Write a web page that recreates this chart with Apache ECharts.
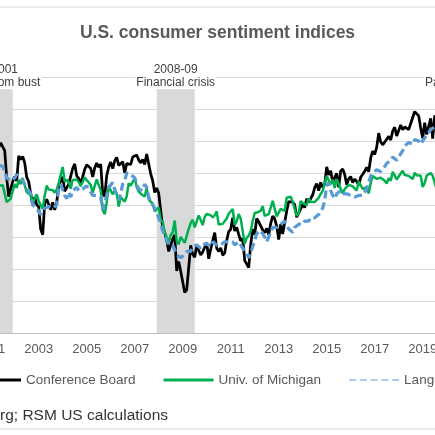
<!DOCTYPE html>
<html>
<head>
<meta charset="utf-8">
<title>U.S. consumer sentiment indices</title>
<script src="https://cdn.jsdelivr.net/npm/echarts@6/dist/echarts.min.js"></script>
<style>
html, body { margin: 0; padding: 0; background: #fff; }
#main { width: 435px; height: 435px; }
</style>
</head>
<body>
<div id="main"></div>
<script>
// monthly readings, first value = May 2001
var startYear = 2001;
var startMonth = 5;

var confBoard = [
    116.1, 118.9, 116.3, 114.0, 97.0, 85.3, 84.9, 94.6,
    97.8, 95.0, 110.7, 108.5, 110.3, 106.3, 97.4, 94.5, 93.7, 79.6, 84.9, 80.3,
    78.8, 64.8, 61.4, 81.0, 83.6, 83.5, 77.0, 81.7, 77.0, 81.7, 92.5, 94.8,
    97.7, 88.5, 88.5, 93.0, 93.1, 102.8, 105.7, 98.2, 96.7, 92.9, 92.6, 102.3,
    105.1, 104.4, 103.0, 97.5, 103.1, 106.2, 103.6, 105.5, 87.5, 85.2, 98.3, 103.8,
    106.8, 102.7, 107.5, 109.8, 104.7, 105.4, 107.0, 100.2, 105.9, 105.1, 105.3, 110.0,
    110.2, 111.2, 108.2, 106.3, 108.5, 105.3, 111.9, 105.6, 99.5, 95.2, 87.8, 90.6,
    87.3, 76.4, 65.9, 62.8, 58.1, 51.0, 51.9, 58.5, 61.4, 38.8, 44.7, 38.6,
    37.4, 25.3, 26.9, 40.8, 54.8, 49.3, 47.4, 54.5, 53.4, 48.7, 50.6, 53.6,
    56.5, 46.4, 52.3, 57.7, 62.7, 52.9, 51.0, 53.2, 48.6, 49.9, 57.8, 63.4,
    64.8, 72.0, 63.8, 66.0, 61.7, 57.6, 59.2, 45.2, 46.4, 40.9, 55.2, 64.8,
    61.5, 71.6, 69.5, 68.7, 64.4, 62.7, 65.4, 61.3, 68.4, 73.1, 71.5, 66.7,
    58.4, 68.0, 61.9, 69.0, 76.2, 82.1, 81.0, 81.8, 80.2, 72.4, 72.0, 77.5,
    80.7, 78.3, 83.9, 81.7, 82.2, 86.4, 90.9, 93.4, 89.0, 94.1, 91.0, 93.1,
    103.8, 98.8, 101.4, 94.3, 94.6, 99.8, 91.0, 101.3, 102.6, 99.1, 92.6, 96.3,
    97.8, 94.0, 96.2, 94.7, 92.4, 97.4, 96.7, 101.1, 103.5, 100.8, 109.4, 113.7,
    111.6, 116.1, 124.9, 119.4, 117.6, 117.3, 121.1, 122.9, 120.6, 126.2, 128.6, 123.1,
    124.3, 130.0, 127.0, 128.8, 128.0, 127.1, 127.9, 134.7, 138.4, 137.9, 135.7, 128.1,
    121.7, 131.4, 124.1, 129.2, 134.1, 121.5, 135.7, 135.1
];

var uMichigan = [
    92.0, 92.6, 92.4, 91.5, 81.8, 82.7, 83.9, 88.8,
    93.0, 90.7, 95.7, 93.0, 96.9, 92.4, 88.1, 87.6, 86.1, 80.6, 84.2, 86.7,
    82.4, 79.9, 77.6, 86.0, 92.1, 89.7, 90.9, 89.3, 87.7, 89.6, 93.7, 92.6,
    103.8, 94.4, 95.8, 94.2, 90.2, 95.6, 96.7, 95.9, 94.2, 91.7, 92.8, 97.1,
    95.5, 94.1, 92.6, 87.7, 86.9, 96.0, 96.5, 89.1, 76.9, 74.2, 81.6, 91.5,
    91.2, 86.7, 88.9, 87.4, 79.1, 84.9, 84.7, 82.0, 85.4, 93.6, 92.1, 91.7,
    96.9, 91.3, 88.4, 87.1, 88.3, 85.3, 90.4, 83.4, 83.4, 80.9, 76.1, 75.5,
    78.4, 70.8, 69.5, 62.6, 59.8, 56.4, 61.2, 63.0, 70.3, 57.6, 55.3, 60.1,
    61.2, 56.3, 57.3, 65.1, 68.7, 70.8, 66.0, 65.7, 73.5, 70.6, 67.4, 72.5,
    74.4, 73.6, 73.6, 72.2, 73.6, 76.0, 67.8, 68.9, 68.2, 67.7, 71.6, 74.5,
    74.2, 77.5, 67.5, 69.8, 74.3, 71.5, 63.7, 55.8, 59.5, 60.8, 63.7, 69.9,
    75.0, 75.3, 76.2, 76.4, 79.3, 73.2, 72.3, 74.3, 78.3, 82.6, 82.7, 72.9,
    73.8, 77.6, 78.6, 76.4, 84.5, 84.1, 85.1, 82.1, 77.5, 73.2, 75.1, 82.5,
    81.2, 81.6, 80.0, 84.1, 81.9, 82.5, 81.8, 82.5, 84.6, 86.9, 88.8, 93.6,
    98.1, 95.4, 93.0, 95.9, 90.7, 96.1, 93.1, 91.9, 87.2, 90.0, 91.3, 92.6,
    92.0, 91.7, 91.0, 89.0, 94.7, 93.5, 90.0, 89.8, 91.2, 87.2, 93.8, 98.2,
    98.5, 96.3, 96.9, 97.0, 97.1, 95.1, 93.4, 96.8, 95.1, 100.7, 98.5, 95.9,
    95.7, 99.7, 101.4, 98.8, 98.0, 98.2, 97.9, 96.2, 100.1, 98.6, 97.5, 98.3,
    91.2, 93.8, 98.4, 97.2, 100.0, 98.2, 98.4, 89.8
];

var langer = [
    105, 106, 104, 101, 97, 96, 95, 96,
    97, 99, 100, 97, 95, 94, 91, 89, 87, 80, 79, 78,
    76, 74, 75, 78, 79, 79, 80, 78, 79, 80, 90, 93,
    92, 86, 84, 88, 85, 89, 90, 91, 89, 88, 90, 91,
    92, 90, 88, 86, 87, 86, 87, 85, 77, 78, 86, 91,
    92, 94, 95, 86, 83, 87, 93, 95, 100, 101, 99, 98,
    97, 93, 90, 91, 89, 93, 91, 85, 82, 80, 78, 75,
    72, 68, 64, 61, 58, 55, 54, 55, 54, 49, 48, 47,
    48, 49, 51, 52, 51, 54, 53, 55, 54, 53, 55, 54,
    56, 55, 54, 57, 56, 55, 54, 55, 56, 57, 56, 57,
    58, 57, 55, 56, 57, 56, 53, 52, 50, 47, 50, 54,
    58, 62, 63, 64, 63, 60, 57, 58, 63, 66, 67, 66,
    67, 68, 69, 70, 67, 65, 64, 63, 66, 65, 68, 67,
    68, 70, 71, 70, 72, 71, 72, 73, 74, 74, 78, 83,
    92, 94, 89, 86, 84, 87, 88, 89, 87, 86, 87, 86,
    86, 87, 85, 86, 86, 85, 86, 87, 90, 94, 98, 100,
    101, 102, 103, 101, 102, 104, 106, 107, 108, 110, 109, 108,
    110, 112, 114, 117, 118, 119, 120, 118, 121, 122, 120, 118,
    119, 122, 124, 125, 127, 128, 129, 128
];

var seriesNames = ['Conference Board', 'Univ. of Michigan', 'Langer Consumer Comfort'];

var recessions = [
    { from: 2001 + 3 / 12, to: 2001 + 11 / 12, label: '2001\nDot-com bust' },
    { from: 2007 + 11 / 12, to: 2009 + 6 / 12, label: '2008-09\nFinancial crisis' },
    { from: 2020 + 1 / 12, to: 2020 + 4 / 12, label: '2020\nPandemic' }
];
var bandTop = 153;

var xMin = 1999, xMax = 2021, xStep = 2;
var yMin = 0, yMax = 160, yStep = 20;

var sourceNote = 'Source: Bloomberg; RSM US calculations';

var FONT = '"Liberation Sans", Arial, sans-serif';

function toPairs(vals) {
    return vals.map(function (v, i) {
        return [startYear + (startMonth - 1 + i) / 12, v];
    });
}

var bands = recessions.map(function (r) {
    return [{ xAxis: r.from, yAxis: bandTop, name: r.label }, { xAxis: r.to, yAxis: yMin }];
});

var chart = echarts.init(document.getElementById('main'), null, { renderer: 'canvas' });

chart.setOption({
    animation: false,
    backgroundColor: '#fff',
    title: {
        text: 'U.S. consumer sentiment indices',
        left: 'center',
        top: 24,
        padding: 0,
        textStyle: { fontFamily: FONT, fontSize: 17.5, fontWeight: 'bold', color: '#595959' }
    },
    legend: {
        left: -34,
        top: 368,
        width: 800,
        itemWidth: 50,
        itemHeight: 3,
        itemGap: 28,
        textStyle: { fontFamily: FONT, fontSize: 13.5, color: '#595959' },
        data: [
            { name: seriesNames[0], icon: 'rect' },
            { name: seriesNames[1], icon: 'rect' },
            // dashed sample
            { name: seriesNames[2], icon: 'path://M0,0h7v1h-7z M10.75,0h7v1h-7z M21.5,0h7v1h-7z M32.25,0h7v1h-7z M43,0h7v1h-7z' }
        ]
    },
    grid: {
        left: -57.3,
        right: -35.7,
        top: 77,
        bottom: 102,
        containLabel: false,
        outerBoundsMode: 'none'
    },
    xAxis: {
        type: 'value',
        min: xMin,
        max: xMax,
        interval: xStep,
        axisLine: { show: true, lineStyle: { color: '#bfbfbf', width: 1 } },
        axisTick: { show: false },
        splitLine: { show: false },
        axisLabel: {
            margin: 10,
            fontFamily: FONT,
            fontSize: 13,
            color: '#595959',
            formatter: function (v) { return String(v); }
        }
    },
    yAxis: {
        type: 'value',
        min: yMin,
        max: yMax,
        interval: yStep,
        axisLine: { show: false },
        axisTick: { show: false },
        axisLabel: { fontFamily: FONT, fontSize: 13, color: '#595959' },
        splitLine: { lineStyle: { color: '#d9d9d9', width: 1 } }
    },
    series: [
        {
            name: seriesNames[0],
            type: 'line',
            data: toPairs(confBoard),
            symbol: 'none',
            color: '#000000',
            lineStyle: { color: '#000000', width: 2.75 },
            markArea: {
                silent: true,
                itemStyle: { color: '#d9d9d9' },
                label: {
                    show: true,
                    position: 'top',
                    distance: -1,
                    formatter: '{b}',
                    fontFamily: FONT,
                    fontSize: 12,
                    lineHeight: 13,
                    color: '#404040',
                    backgroundColor: '#ffffff',
                    padding: [0, 1]
                },
                data: bands
            }
        },
        {
            name: seriesNames[1],
            type: 'line',
            data: toPairs(uMichigan),
            symbol: 'none',
            color: '#00b050',
            lineStyle: { color: '#00b050', width: 2.5 }
        },
        {
            name: seriesNames[2],
            type: 'line',
            data: toPairs(langer),
            symbol: 'none',
            color: '#5b9bd5',
            lineStyle: { color: '#5b9bd5', width: 3.25, type: [8, 4] }
        }
    ],
    graphic: [
        {
            type: 'rect',
            silent: true,
            shape: { x: -10, y: 7, width: 455, height: 422 },
            style: { fill: 'none', stroke: '#d9d9d9', lineWidth: 1 }
        },
        {
            type: 'text',
            x: 168,
            y: 416,
            style: {
                text: sourceNote,
                textAlign: 'right',
                textVerticalAlign: 'middle',
                fontFamily: FONT,
                fontSize: 15.5,
                fill: '#333333'
            }
        }
    ]
});
</script>
</body>
</html>
